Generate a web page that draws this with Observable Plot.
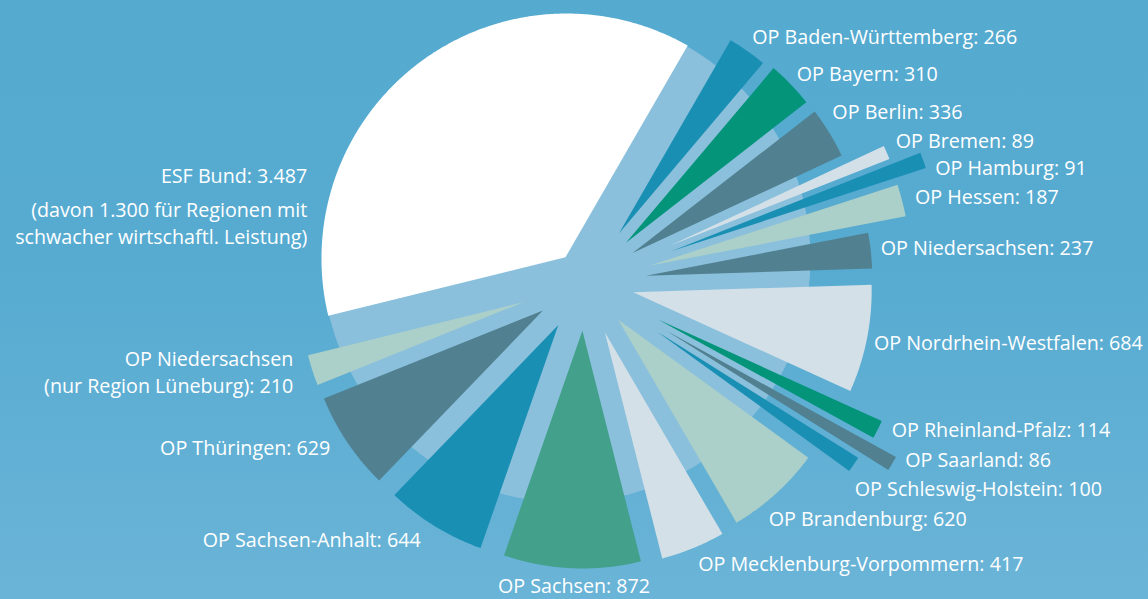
<!DOCTYPE html>
<html>
<head>
<meta charset="utf-8">
<script src="https://cdn.jsdelivr.net/npm/d3@7"></script>
<script src="https://cdn.jsdelivr.net/npm/@observablehq/plot@0.6"></script>
<style>
  html, body { margin: 0; padding: 0; }
  body {
    width: 1148px; height: 599px; overflow: hidden;
    background: linear-gradient(180deg, #55aad0 0%, #57abd1 45%, #6ab4d7 100%);
  }
  #chart svg { display: block; }
</style>
</head>
<body>
<div id="chart"></div>
<script>
// ---------- data ----------
const programmes = [
  "OP Baden-Württemberg", "OP Bayern", "OP Berlin", "OP Bremen", "OP Hamburg",
  "OP Hessen", "OP Niedersachsen", "OP Nordrhein-Westfalen", "OP Rheinland-Pfalz",
  "OP Saarland", "OP Schleswig-Holstein", "OP Brandenburg", "OP Mecklenburg-Vorpommern",
  "OP Sachsen", "OP Sachsen-Anhalt", "OP Thüringen",
  "OP Niedersachsen\n(nur Region Lüneburg)", "ESF Bund"
];
const amounts = [266, 310, 336, 89, 91, 187, 237, 684, 114, 86, 100, 620, 417, 872, 644, 629, 210, 3487];
const esfNote = "(davon 1.300 für Regionen mit\nschwacher wirtschaftl. Leistung)";

// ---------- styles ----------
const BLUE = "#1a8fb4", GREEN = "#03947a", GREEN2 = "#43a08b", SLATE = "#518091",
      LIGHT = "#d3e0e8", MINT = "#abcfc9", WHITE = "#ffffff", HUB = "#8bc0dc";
const fills = [BLUE, GREEN, SLATE, LIGHT, BLUE, MINT, SLATE, LIGHT, GREEN, SLATE, BLUE,
               MINT, LIGHT, GREEN2, BLUE, SLATE, MINT, WHITE];
const radii   = [240, 243, 244, 286, 317, 285, 245, 245, 285, 314, 282, 242, 244, 243, 243, 243, 243, 245];
const explode = [43, 43, 43, 43, 43, 43, 43, 43, 43, 43, 43, 43, 43, 43, 43, 43, 43, 30];
const labelDx = [5, 6, 3, 9, 12, 13, 10, 7, 14, 13, 1, -7, 5, 2, -14, -17, -19, -112];
const labelDy = [-16, -12, -22, -13, 6, -5, -4, 2, -1, -5, 23, 24, 14, 16, 12, 4, 1, 112];
const anchors = ["start","start","start","start","start","start","start","start","start",
                 "start","start","start","start","middle","end","end","end","end"];
const center = {x: 584, y: 282};
const startDeg = 30;
const pad = 1.5;       // half gap width
const hubRadius = 244; // light-blue disc behind the slices
const noteOffset = 47.5;

// ---------- geometry via d3.pie ----------
const fmt = v => v.toLocaleString("de-DE");
const arcs = d3.pie().sort(null).value(d => d)
  .startAngle(startDeg * Math.PI / 180)
  .endAngle(startDeg * Math.PI / 180 + 2 * Math.PI)(amounts);

const pt = (o, r, a) => ({x: o.x + r * Math.sin(a), y: o.y - r * Math.cos(a)});

const slicePts = [];
const labels = [];
let esfCenter = null;
arcs.forEach((a, i) => {
  const mid = (a.startAngle + a.endAngle) / 2;
  const half = (a.endAngle - a.startAngle) / 2;
  const o = pt(center, explode[i], mid);
  if (i === amounts.length - 1) esfCenter = o;
  const R = radii[i];
  const apex = pt(o, pad / Math.sin(half), mid);
  slicePts.push({id: i, fill: fills[i], ...apex});
  const d = Math.asin(pad / R);
  const a0 = a.startAngle + d, a1 = a.endAngle - d;
  const n = Math.max(4, Math.ceil((a1 - a0) / (Math.PI / 360)));
  for (let k = 0; k <= n; k++) {
    slicePts.push({id: i, fill: fills[i], ...pt(o, R, a0 + (a1 - a0) * k / n)});
  }
  const tip = pt(o, R, mid);
  labels.push({
    x: tip.x + labelDx[i], y: tip.y + labelDy[i],
    text: `${programmes[i]}: ${fmt(amounts[i])}`, anchor: anchors[i]
  });
});
const esfLabel = labels[labels.length - 1];
labels.push({x: esfLabel.x, y: esfLabel.y + noteOffset, text: esfNote, anchor: "end"});

const hubPts = d3.range(0, 360, 1).map(deg => pt(esfCenter, hubRadius, deg * Math.PI / 180));

const textOpts = {x: "x", y: "y", text: "text", fill: "white", fontSize: 19.7, lineHeight: 1.36};

const chart = Plot.plot({
  width: 1148, height: 599, margin: 0,
  x: {domain: [0, 1148], range: [0, 1148], axis: null},
  y: {domain: [0, 599], range: [0, 599], axis: null},
  color: {type: "identity"},
  style: {background: "transparent", fontFamily: "'Open Sans', sans-serif", overflow: "visible"},
  marks: [
    Plot.line(hubPts, {x: "x", y: "y", fill: HUB, stroke: "none", curve: "linear-closed"}),
    Plot.line(slicePts, {x: "x", y: "y", z: "id", fill: "fill", stroke: "none", curve: "linear-closed"}),
    Plot.text(labels.filter(d => d.anchor === "start"), {...textOpts, textAnchor: "start"}),
    Plot.text(labels.filter(d => d.anchor === "middle"), {...textOpts, textAnchor: "middle"}),
    Plot.text(labels.filter(d => d.anchor === "end"), {...textOpts, textAnchor: "end"})
  ]
});
document.getElementById("chart").appendChild(chart);
</script>
</body>
</html>
